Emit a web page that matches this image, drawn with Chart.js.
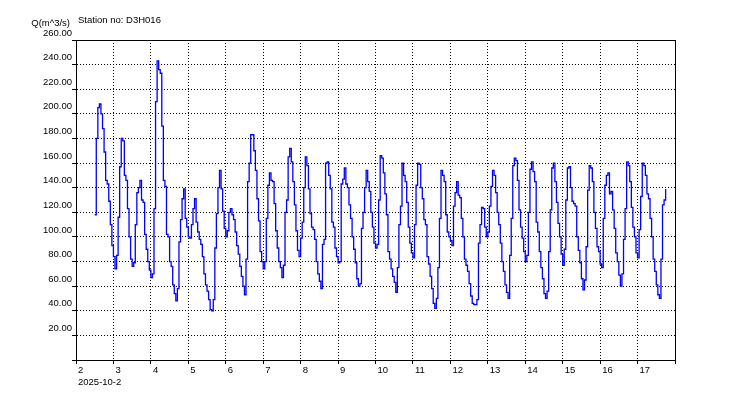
<!DOCTYPE html>
<html>
<head>
<meta charset="utf-8">
<script src="https://cdn.jsdelivr.net/npm/chart.js@4.4.1/dist/chart.umd.min.js"></script>
<style>
  html, body { margin: 0; padding: 0; background: #fff; }
  #wrap { width: 750px; height: 400px; }
</style>
</head>
<body>
<div id="wrap"><canvas id="chart"></canvas></div>
<script>
// Station D3H016, hourly discharge starting 2025-10-02 12:00
const stationText = 'Station no: D3H016';
const yTitle = 'Q(m^3/s)';
const dateLabel = '2025-10-2';
const startDay = 2.5;
const stepHours = 1;
const dayTicks = [2, 3, 4, 5, 6, 7, 8, 9, 10, 11, 12, 13, 14, 15, 16, 17];

const day2 = [118, 180, 205, 208, 200, 188, 169, 146, 143, 129, 110, 93];
const day3 = [84, 74, 85, 116, 157, 180, 178, 150, 146, 123, 100, 82, 76, 79, 110, 136, 140, 146, 130, 128, 102, 90, 80, 73];
const day4 = [67, 70, 123, 210, 243, 236, 233, 190, 146, 141, 102, 100, 80, 76, 61, 54, 48, 58, 96, 114, 131, 139, 115, 108];
const day5 = [100, 99, 110, 123, 131, 112, 104, 98, 94, 84, 70, 61, 56, 49, 41, 40, 49, 91, 119, 140, 154, 139, 121, 107];
const day6 = [100, 105, 120, 123, 118, 114, 104, 93, 86, 76, 68, 60, 53, 82, 145, 160, 183, 183, 170, 154, 131, 113, 88, 80];
const day7 = [74, 80, 115, 142, 152, 146, 145, 127, 105, 91, 80, 75, 67, 77, 120, 130, 165, 172, 161, 145, 126, 105, 89, 84];
const day8 = [99, 112, 140, 165, 158, 139, 119, 108, 106, 98, 80, 70, 64, 58, 94, 98, 160, 161, 150, 139, 112, 108, 91, 84];
const day9 = [79, 80, 143, 147, 156, 143, 140, 126, 115, 100, 90, 79, 66, 60, 62, 107, 120, 140, 154, 145, 137, 120, 108, 95];
const day10 = [91, 94, 130, 166, 164, 152, 135, 118, 88, 82, 74, 68, 63, 55, 75, 110, 125, 160, 150, 145, 128, 108, 95, 87];
const day11 = [83, 110, 142, 160, 159, 140, 131, 114, 110, 84, 78, 68, 58, 46, 42, 50, 75, 115, 154, 150, 145, 118, 104, 100];
const day12 = [97, 93, 125, 136, 145, 134, 132, 115, 100, 82, 77, 72, 62, 52, 46, 45, 45, 49, 95, 110, 124, 123, 108, 100];
const day13 = [104, 125, 141, 154, 150, 136, 120, 110, 95, 80, 72, 61, 55, 50, 85, 115, 158, 164, 162, 146, 122, 108, 99, 88];
const day14 = [80, 85, 120, 155, 161, 153, 145, 112, 104, 88, 75, 66, 54, 50, 56, 88, 122, 156, 160, 145, 128, 111, 100, 86];
const day15 = [77, 90, 130, 156, 157, 140, 129, 127, 125, 100, 89, 79, 66, 57, 65, 92, 138, 158, 156, 145, 120, 107, 92, 88];
const day16 = [78, 75, 115, 142, 150, 152, 135, 137, 122, 107, 87, 80, 69, 60, 70, 98, 123, 161, 158, 145, 124, 108, 100, 87];
const day17 = [83, 106, 133, 160, 158, 150, 135, 131, 115, 100, 82, 72, 61, 53, 50, 82, 126, 130, 139];

const flow = [].concat(day2, day3, day4, day5, day6, day7, day8, day9, day10,
  day11, day12, day13, day14, day15, day16, day17);

const FONT = '"Liberation Sans", Arial, sans-serif';
Chart.defaults.font.family = FONT;
Chart.defaults.font.size = 9.5;
Chart.defaults.color = '#000';

const points = flow.map((v, i) => ({ x: startDay + i * stepHours / 24, y: v }));

const framePlugin = {
  id: 'frame',
  afterDraw(chart) {
    const { ctx, chartArea: a } = chart;
    ctx.save();
    ctx.strokeStyle = '#000';
    ctx.lineWidth = 1;
    ctx.strokeRect(a.left + 0.5, a.top + 0.5, a.right - a.left, a.bottom - a.top);
    ctx.fillStyle = '#000';
    ctx.font = '9.5px ' + FONT;
    ctx.textAlign = 'right';
    ctx.fillText(yTitle, 70, 26);
    ctx.textAlign = 'left';
    ctx.fillText(stationText, 78, 23);
    ctx.restore();
  }
};

new Chart(document.getElementById('chart'), {
  type: 'line',
  data: {
    datasets: [{
      data: points,
      borderColor: '#0000ff',
      borderWidth: 1.3,
      pointRadius: 0,
      stepped: true,
      fill: false
    }]
  },
  options: {
    responsive: true,
    maintainAspectRatio: false,
    animation: false,
    layout: { padding: { top: 40, right: 75, left: 0, bottom: 0 } },
    plugins: { legend: { display: false }, tooltip: { enabled: false } },
    scales: {
      x: {
        type: 'linear',
        min: 2,
        max: 18,
        afterBuildTicks: s => { s.ticks = dayTicks.concat([18]).map(v => ({ value: v })); },
        afterFit: s => { s.height = 40; },
        ticks: {
          align: 'start',
          labelOffset: 2,
          padding: 1,
          maxRotation: 0,
          autoSkip: false,
          callback: v => v === 2 ? ['2', dateLabel] : (dayTicks.includes(v) ? String(v) : '')
        },
        grid: { color: '#000', lineWidth: 1, tickLength: 4, tickColor: '#000' },
        border: { display: true, color: '#000', width: 1, dash: [1, 2] }
      },
      y: {
        min: 0,
        max: 260,
        afterFit: s => { s.width = 76; },
        ticks: {
          stepSize: 20,
          labelOffset: -7,
          padding: 0,
          callback: v => v === 0 ? '' : v.toFixed(2)
        },
        grid: { color: '#000', lineWidth: 1, tickLength: 4, tickColor: '#000' },
        border: { display: true, color: '#000', width: 1, dash: [1, 2] }
      }
    }
  },
  plugins: [framePlugin]
});
</script>
</body>
</html>
